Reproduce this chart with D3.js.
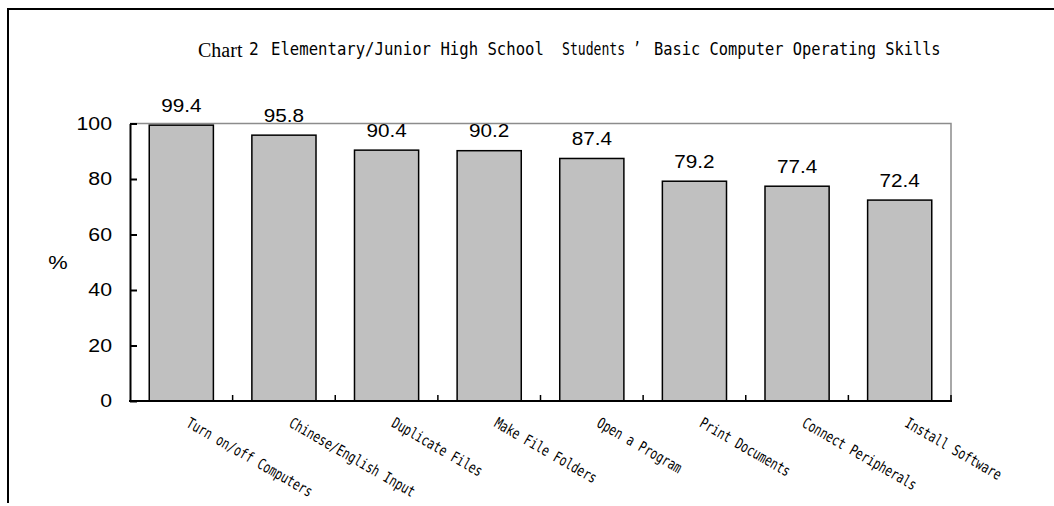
<!DOCTYPE html>
<html>
<head>
<meta charset="utf-8">
<script src="https://cdn.jsdelivr.net/npm/d3@7"></script>
<style>
  html, body { margin: 0; padding: 0; background: #fff; }
  svg { display: block; }
  text { white-space: pre; }
</style>
</head>
<body>
<svg id="chart" width="1054" height="506"></svg>
<script>
// Skill categories and share of students (%) able to perform each
const categories = [
  "Turn on/off Computers",
  "Chinese/English Input",
  "Duplicate Files",
  "Make File Folders",
  "Open a Program",
  "Print Documents",
  "Connect Peripherals",
  "Install Software"
];
const values = [99.4, 95.8, 90.4, 90.2, 87.4, 79.2, 77.4, 72.4];
const yTicks = [0, 20, 40, 60, 80, 100];
const yLabel = "%";
const titlePrefix = "Chart";
const titleNumber = "2";
const titleParts = [
  "Elementary/Junior High School",
  "Students ’",
  "Basic Computer Operating Skills"
];

const svg = d3.select("#chart");
const plot = { left: 130, right: 951, top: 123.5, bottom: 401 };

const x = d3.scaleBand()
  .domain(categories)
  .range([plot.left, plot.right])
  .paddingInner(0.375)
  .paddingOuter(0.1875);

const y = d3.scaleLinear()
  .domain([0, 100])
  .range([plot.bottom, plot.top]);

const monoFont = "'DejaVu Sans Mono', 'Liberation Mono', monospace";
const sansFont = "'Liberation Sans', Arial, sans-serif";
const sansStretch = 1.15;

// Squeeze or stretch a text node horizontally to a target width
function fitWidth(sel, px, py, width, extra) {
  sel.each(function () {
    const node = this;
    const natural = node.getComputedTextLength();
    const sx = natural > 0 ? width / natural : 1;
    d3.select(node).attr("transform",
      `translate(${px},${py})${extra || ""} scale(${sx},1)`);
  });
}

// Outer frame (left and top edges)
svg.append("path")
  .attr("d", "M8,503 L8,9 L1054,9")
  .attr("fill", "none")
  .attr("stroke", "#000")
  .attr("stroke-width", 2);

// Title
svg.append("text")
  .attr("x", 198).attr("y", 56.5)
  .attr("font-family", "'Liberation Serif', 'Times New Roman', serif")
  .attr("font-size", 20)
  .attr("fill", "#000")
  .text(titlePrefix);
svg.append("text")
  .attr("transform", "translate(249,54.5) scale(0.9,1)")
  .attr("font-family", monoFont)
  .attr("font-size", 18)
  .attr("fill", "#000")
  .text(titleNumber);
const titleSpans = [[271, 273], [562, 79], [654, 287]];
titleParts.forEach((t, i) => {
  svg.append("text")
    .attr("font-family", monoFont)
    .attr("font-size", 17)
    .attr("fill", "#000")
    .text(t)
    .call(fitWidth, titleSpans[i][0], 54.5, titleSpans[i][1]);
});

// Plot area border (top and right, grey)
svg.append("path")
  .attr("d", `M${plot.left},${plot.top} L${plot.right},${plot.top} L${plot.right},${plot.bottom}`)
  .attr("fill", "none")
  .attr("stroke", "#8c8c8c")
  .attr("stroke-width", 1.5);

// Bars
svg.append("g")
  .selectAll("rect")
  .data(values)
  .join("rect")
  .attr("x", (d, i) => x(categories[i]))
  .attr("y", d => y(d))
  .attr("width", x.bandwidth())
  .attr("height", d => y(0) - y(d))
  .attr("fill", "#c0c0c0")
  .attr("stroke", "#000")
  .attr("stroke-width", 1.5);

// Value labels
svg.append("g")
  .selectAll("text")
  .data(values)
  .join("text")
  .attr("transform", (d, i) =>
    `translate(${x(categories[i]) + x.bandwidth() / 2},${y(d) - 13.5}) scale(${sansStretch},1)`)
  .attr("text-anchor", "middle")
  .attr("font-family", sansFont)
  .attr("font-size", 18)
  .attr("fill", "#000")
  .text(d => d.toFixed(1));

// Y axis with inward ticks
const yAxis = d3.axisLeft(y)
  .tickValues(yTicks)
  .tickSize(-7)
  .tickSizeOuter(0)
  .tickPadding(18)
  .tickFormat(d3.format("d"));
const gy = svg.append("g")
  .attr("transform", `translate(${plot.left},0)`)
  .call(yAxis);
gy.select(".domain").attr("stroke", "#000").attr("stroke-width", 2);
gy.selectAll(".tick line").attr("stroke", "#000").attr("stroke-width", 2);
gy.selectAll(".tick text")
  .attr("x", -18 / sansStretch)
  .attr("transform", `scale(${sansStretch},1)`)
  .attr("font-family", sansFont)
  .attr("font-size", 18.5)
  .attr("fill", "#000");

// Y axis title
svg.append("text")
  .attr("transform", `translate(58,269) scale(${sansStretch},1)`)
  .attr("text-anchor", "middle")
  .attr("font-family", sansFont)
  .attr("font-size", 19)
  .attr("fill", "#000")
  .text(yLabel);

// X axis baseline with inward ticks at category boundaries
const gx = svg.append("g");
gx.append("line")
  .attr("x1", plot.left - 1).attr("x2", plot.right + 1)
  .attr("y1", y(0)).attr("y2", y(0))
  .attr("stroke", "#000").attr("stroke-width", 2);
gx.selectAll("line.boundary")
  .data(categories)
  .join("line")
  .attr("class", "boundary")
  .attr("x1", d => x(d) + x.bandwidth() + x.step() * x.paddingInner() / 2)
  .attr("x2", d => x(d) + x.bandwidth() + x.step() * x.paddingInner() / 2)
  .attr("y1", y(0)).attr("y2", y(0) - 6)
  .attr("stroke", "#000").attr("stroke-width", 1.5);

// Rotated category labels
svg.append("g")
  .selectAll("text")
  .data(categories)
  .join("text")
  .attr("text-anchor", "start")
  .attr("font-family", monoFont)
  .attr("font-size", 15)
  .attr("fill", "#000")
  .text(d => d)
  .each(function (d) {
    d3.select(this).call(fitWidth,
      x(d) + x.bandwidth() / 2 + 4, y(0) + 25, d.length * 6.8, " rotate(30)");
  });
</script>
</body>
</html>
